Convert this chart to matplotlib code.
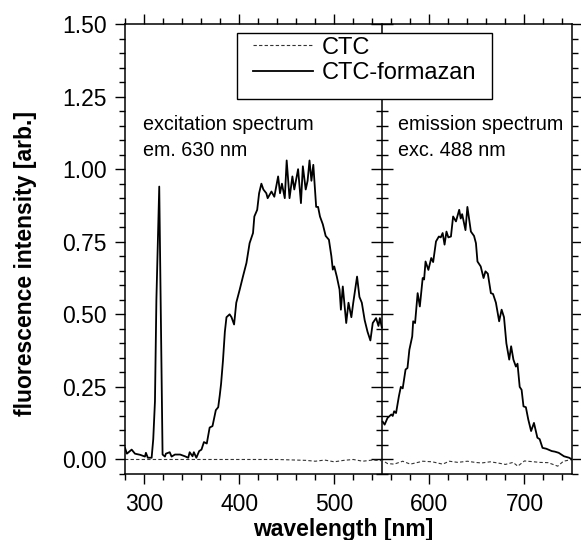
import matplotlib.pyplot as plt
from matplotlib.patches import Rectangle
from matplotlib.ticker import MultipleLocator

plt.rcParams['font.family'] = ['Liberation Sans', 'DejaVu Sans']

# CTC-formazan, excitation spectrum (em. 630 nm)
exc_wl = [280, 282, 287, 290.5, 296, 301, 302, 304, 308, 309.7, 311.5, 313, 316,
          319.5, 322, 323, 327, 329, 332.5, 338, 343, 346.5, 348, 351, 352.4, 355,
          358, 360.4, 363, 366, 369, 372, 375.5, 378, 379.6, 381, 383, 385, 386.7,
          390, 392, 394.7, 397, 400.6, 404, 407.7, 411, 414.6, 416, 419, 421,
          423.4, 425.5, 428.6, 430, 434, 437, 441, 443, 445, 448, 450, 453, 456,
          458, 462, 465, 467, 470, 472, 474, 476, 478, 481, 483, 485, 488, 491,
          494.4, 497, 498.5, 500, 502.7, 505.6, 507, 509, 512.6, 515, 518, 520,
          522, 524, 526.5, 529, 532, 535, 538, 540.5, 544, 546.5, 548, 550]
exc_val = [0.04, 0.02, 0.034, 0.02, 0.016, 0.01, 0.023, 0.006, 0.006, 0.07, 0.2,
           0.55, 0.94, 0.017, 0.01, 0.02, 0.025, 0.01, 0.017, 0.017, 0.011, 0.006,
           0.025, 0.011, 0.025, 0.006, 0.029, 0.034, 0.06, 0.055, 0.11, 0.115,
           0.17, 0.18, 0.22, 0.26, 0.34, 0.44, 0.49, 0.5, 0.49, 0.465, 0.54,
           0.585, 0.63, 0.677, 0.745, 0.78, 0.837, 0.86, 0.917, 0.95, 0.93, 0.917,
           0.9, 0.923, 0.905, 0.975, 0.917, 0.95, 0.9, 1.03, 0.9, 0.975, 0.93,
           1.0, 0.883, 1.01, 0.93, 0.96, 1.03, 0.96, 1.015, 0.87, 0.87, 0.837,
           0.81, 0.77, 0.757, 0.70, 0.654, 0.665, 0.63, 0.585, 0.516, 0.596, 0.47,
           0.54, 0.49, 0.54, 0.585, 0.63, 0.56, 0.54, 0.48, 0.44, 0.41, 0.47,
           0.487, 0.46, 0.487, 0.455]

# CTC-formazan, emission spectrum (exc. 488 nm)
em_wl = [551, 553, 556, 560, 561.5, 563, 565, 568, 570, 572, 575, 577, 579, 582,
         583, 585, 587.7, 590, 593, 594.5, 596, 599, 602, 604, 607, 610, 612,
         614, 616, 618, 620, 622.7, 625, 628, 631.4, 633, 634.5, 638, 640, 643.7,
         647, 649, 650.6, 654, 657, 659, 661.5, 664.7, 667, 670, 673.4, 676,
         678.5, 681, 684, 686, 688.4, 691, 692.7, 695, 697, 699, 701.5, 704, 707,
         710, 713.6, 716, 719, 723, 728.7, 732, 736, 741.6, 747, 750]
em_val = [0.13, 0.12, 0.143, 0.155, 0.15, 0.166, 0.16, 0.218, 0.25, 0.245, 0.31,
          0.315, 0.378, 0.424, 0.476, 0.47, 0.573, 0.527, 0.625, 0.62, 0.682,
          0.653, 0.694, 0.68, 0.751, 0.768, 0.765, 0.78, 0.74, 0.785, 0.765,
          0.768, 0.837, 0.82, 0.86, 0.83, 0.845, 0.79, 0.87, 0.785, 0.77, 0.745,
          0.682, 0.665, 0.625, 0.648, 0.64, 0.573, 0.57, 0.54, 0.476, 0.516, 0.49,
          0.40, 0.344, 0.39, 0.344, 0.32, 0.33, 0.25, 0.24, 0.183, 0.18, 0.138,
          0.098, 0.126, 0.075, 0.07, 0.04, 0.037, 0.029, 0.027, 0.023, 0.011,
          0.006, 0.0]

# CTC (dashed)
ctc_exc_wl = [280, 320, 360, 400, 440, 470, 480, 490, 500, 510, 520, 530, 540, 550]
ctc_exc_val = [0.0, 0.0, 0.0, 0.0, 0.0, -0.003, -0.006, -0.002, -0.008, -0.003,
               0.0, -0.006, -0.002, -0.004]
ctc_em_wl = [551, 556, 563, 572, 580, 588, 593, 603, 614, 621, 630, 640, 648,
             655, 664, 672, 680, 688, 693, 700, 710, 716, 725, 735, 741, 750]
ctc_em_val = [-0.004, -0.014, -0.016, -0.006, -0.016, -0.01, -0.006, -0.008,
              -0.016, -0.006, -0.01, -0.006, -0.01, -0.012, -0.008, -0.012,
              -0.017, -0.01, -0.023, -0.005, -0.008, -0.01, -0.011, -0.023,
              -0.006, 0.0]

x_split = 550

fig = plt.figure(figsize=(5.81, 5.40), dpi=100)
ax = fig.add_axes([125 / 581, 1 - 474 / 540, 447 / 581, 450 / 540])

ax.plot(ctc_exc_wl + ctc_em_wl, ctc_exc_val + ctc_em_val, color='#333333',
        lw=0.8, ls=(0, (3, 2)), label='CTC')
ax.plot(exc_wl, exc_val, color='black', lw=1.3, label='CTC-formazan')
ax.plot(em_wl, em_val, color='black', lw=1.3)

ax.set_xlim(280, 750)
ax.set_ylim(-0.05, 1.5)
ax.xaxis.set_major_locator(MultipleLocator(100))
ax.xaxis.set_minor_locator(MultipleLocator(20))
ax.yaxis.set_major_locator(MultipleLocator(0.25))
ax.yaxis.set_minor_locator(MultipleLocator(0.05))
ax.yaxis.set_major_formatter(lambda v, p: f'{v:.2f}')
ax.tick_params(which='both', direction='out', top=True, right=True,
               labelsize=16.5, width=1)
ax.tick_params(which='major', length=7)
ax.tick_params(which='minor', length=4)
ax.tick_params(axis='x', pad=7)
ax.tick_params(axis='y', pad=6)
for s in ax.spines.values():
    s.set_linewidth(1.1)

# divider between excitation and emission panels
sec = ax.secondary_yaxis((x_split - 280) / (750 - 280))
sec.yaxis.set_major_locator(MultipleLocator(0.25))
sec.yaxis.set_minor_locator(MultipleLocator(0.05))
sec.tick_params(which='both', direction='inout', labelleft=False, labelright=False, width=1)
sec.tick_params(which='major', length=16)
sec.tick_params(which='minor', length=8)
sec.spines['right'].set_linewidth(1.1)
sec.spines['left'].set_linewidth(1.1)

ax.set_xlabel('wavelength [nm]', fontsize=16.5, fontweight='bold')
ax.xaxis.set_label_coords(0.488, -0.097)
ax.set_ylabel('fluorescence intensity [arb.]', fontsize=16.5, fontweight='bold')
ax.yaxis.set_label_coords(-0.197, 0.468)

ax.text(299, 1.135, 'excitation spectrum', fontsize=14.2, va='baseline')
ax.text(299, 1.046, 'em. 630 nm', fontsize=14.2, va='baseline')
ax.text(567.5, 1.135, 'emission spectrum', fontsize=14.2, va='baseline')
ax.text(567.5, 1.046, 'exc. 488 nm', fontsize=14.2, va='baseline')

# legend frame drawn separately (wide side margins)
ax.add_patch(Rectangle((0.2506, 0.8333), 0.5705, 0.1467, transform=ax.transAxes,
                       facecolor='white', edgecolor='black', lw=1, zorder=4.5))
leg = ax.legend(loc='upper left', bbox_to_anchor=(0.2864, 0.972), borderaxespad=0,
                fontsize=17, frameon=False, handlelength=2.55, handletextpad=0.34,
                borderpad=0, labelspacing=0.15)

fig.savefig('out.png', dpi=100)
